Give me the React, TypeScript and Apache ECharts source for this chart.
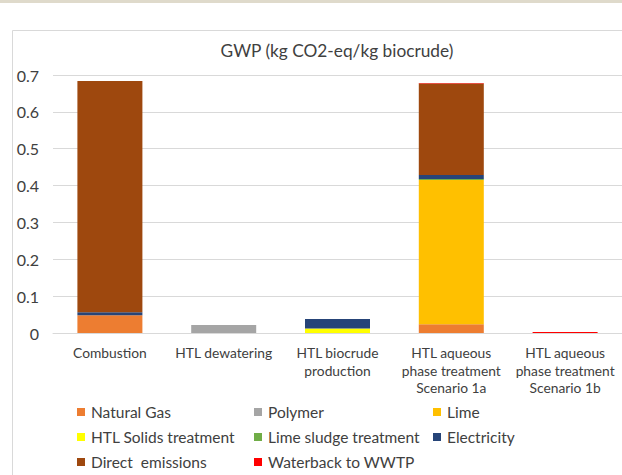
import React, { useEffect, useRef } from "react";
import * as echarts from "echarts";

const categories = [
  "Combustion",
  "HTL dewatering",
  "HTL biocrude\nproduction",
  "HTL aqueous\nphase treatment\nScenario 1a",
  "HTL aqueous\nphase treatment\nScenario 1b",
];
const naturalGas = [0.048, 0, 0, 0.024, 0];
const polymer = [0, 0.022, 0, 0, 0];
const lime = [0, 0, 0, 0.391, 0];
const htlSolids = [0, 0, 0.012, 0, 0];
const limeSludge = [0, 0, 0, 0.003, 0];
const electricity = [0.008, 0, 0.026, 0.011, 0];
const directEmissions = [0.628, 0, 0, 0.248, 0];
const waterback = [0, 0, 0, 0.001, 0.003];

const seriesDefs = [
  { name: "Natural Gas", data: naturalGas, color: "#ED7D31" },
  { name: "Polymer", data: polymer, color: "#A5A5A5" },
  { name: "Lime", data: lime, color: "#FFC000" },
  { name: "HTL Solids treatment", data: htlSolids, color: "#FFFF00" },
  { name: "Lime sludge treatment", data: limeSludge, color: "#70AD47" },
  { name: "Electricity", data: electricity, color: "#264478" },
  { name: "Direct  emissions", data: directEmissions, color: "#9E480E" },
  { name: "Waterback to WWTP", data: waterback, color: "#FF0000" },
];

const legendCols = [
  ["Natural Gas", "HTL Solids treatment", "Direct  emissions"],
  ["Polymer", "Lime sludge treatment", "Waterback to WWTP"],
  ["Lime", "Electricity"],
];
const legendLefts = [77, 254, 433];
const legendTops = [404, 429, 454];

const FONT = "Lato";

export default function App() {
  const ref = useRef<HTMLDivElement>(null);
  useEffect(() => {
    const chart = echarts.init(ref.current!, null, { renderer: "svg" });
    const legends: any[] = [];
    legendCols.forEach((col, i) => {
      col.forEach((name, j) => {
        legends.push({
          data: [name],
          orient: "horizontal",
          left: legendLefts[i],
          top: legendTops[j],
          padding: 0,
          itemWidth: 8,
          itemHeight: 8,
          icon: "rect",
          textStyle: {
            fontFamily: FONT,
            fontSize: 15.5,
            color: "#404040",
            lineHeight: 16,
            padding: [0, 0, 0, 1],
          },
        });
      });
    });
    chart.setOption({
      animation: false,
      backgroundColor: "#ffffff",
      textStyle: { fontFamily: FONT },
      graphic: [
        {
          type: "rect",
          z: -10,
          shape: { x: 12.5, y: 30.5, width: 700, height: 500 },
          style: { fill: "#ffffff", stroke: "#d9d9d9", lineWidth: 1 },
        },
        {
          type: "rect",
          z: -10,
          shape: { x: 0, y: 0, width: 622, height: 3 },
          style: { fill: "#dfdacb" },
        },
      ],
      title: {
        text: "GWP (kg CO2-eq/kg biocrude)",
        left: 332,
        textAlign: "center",
        top: 37,
        textStyle: {
          fontFamily: FONT,
          fontSize: 17.3,
          fontWeight: "normal",
          color: "#404040",
        },
      },
      legend: legends,
      grid: { left: 53, right: 0, top: 75, bottom: 142, containLabel: false },
      xAxis: {
        type: "category",
        data: categories,
        axisLine: { lineStyle: { color: "#d9d9d9" } },
        axisTick: { show: false },
        axisLabel: {
          interval: 0,
          color: "#404040",
          fontFamily: FONT,
          fontSize: 13.8,
          lineHeight: 17.5,
          margin: 11,
        },
      },
      yAxis: {
        type: "value",
        min: 0,
        max: 0.7,
        interval: 0.1,
        axisLine: { show: false },
        axisTick: { show: false },
        splitLine: { lineStyle: { color: "#d9d9d9" } },
        axisLabel: {
          color: "#404040",
          fontFamily: FONT,
          fontSize: 16,
          margin: 14,
          formatter: (v: number) => (v === 0 ? "0" : v.toFixed(1)),
        },
      },
      series: seriesDefs.map((s) => ({
        name: s.name,
        type: "bar",
        stack: "total",
        barWidth: 65,
        data: s.data,
        itemStyle: { color: s.color },
      })),
    });
    return () => chart.dispose();
  }, []);
  return (
    <div
      ref={ref}
      style={{ position: "fixed", left: 0, top: 0, width: 622, height: 475 }}
    />
  );
}
